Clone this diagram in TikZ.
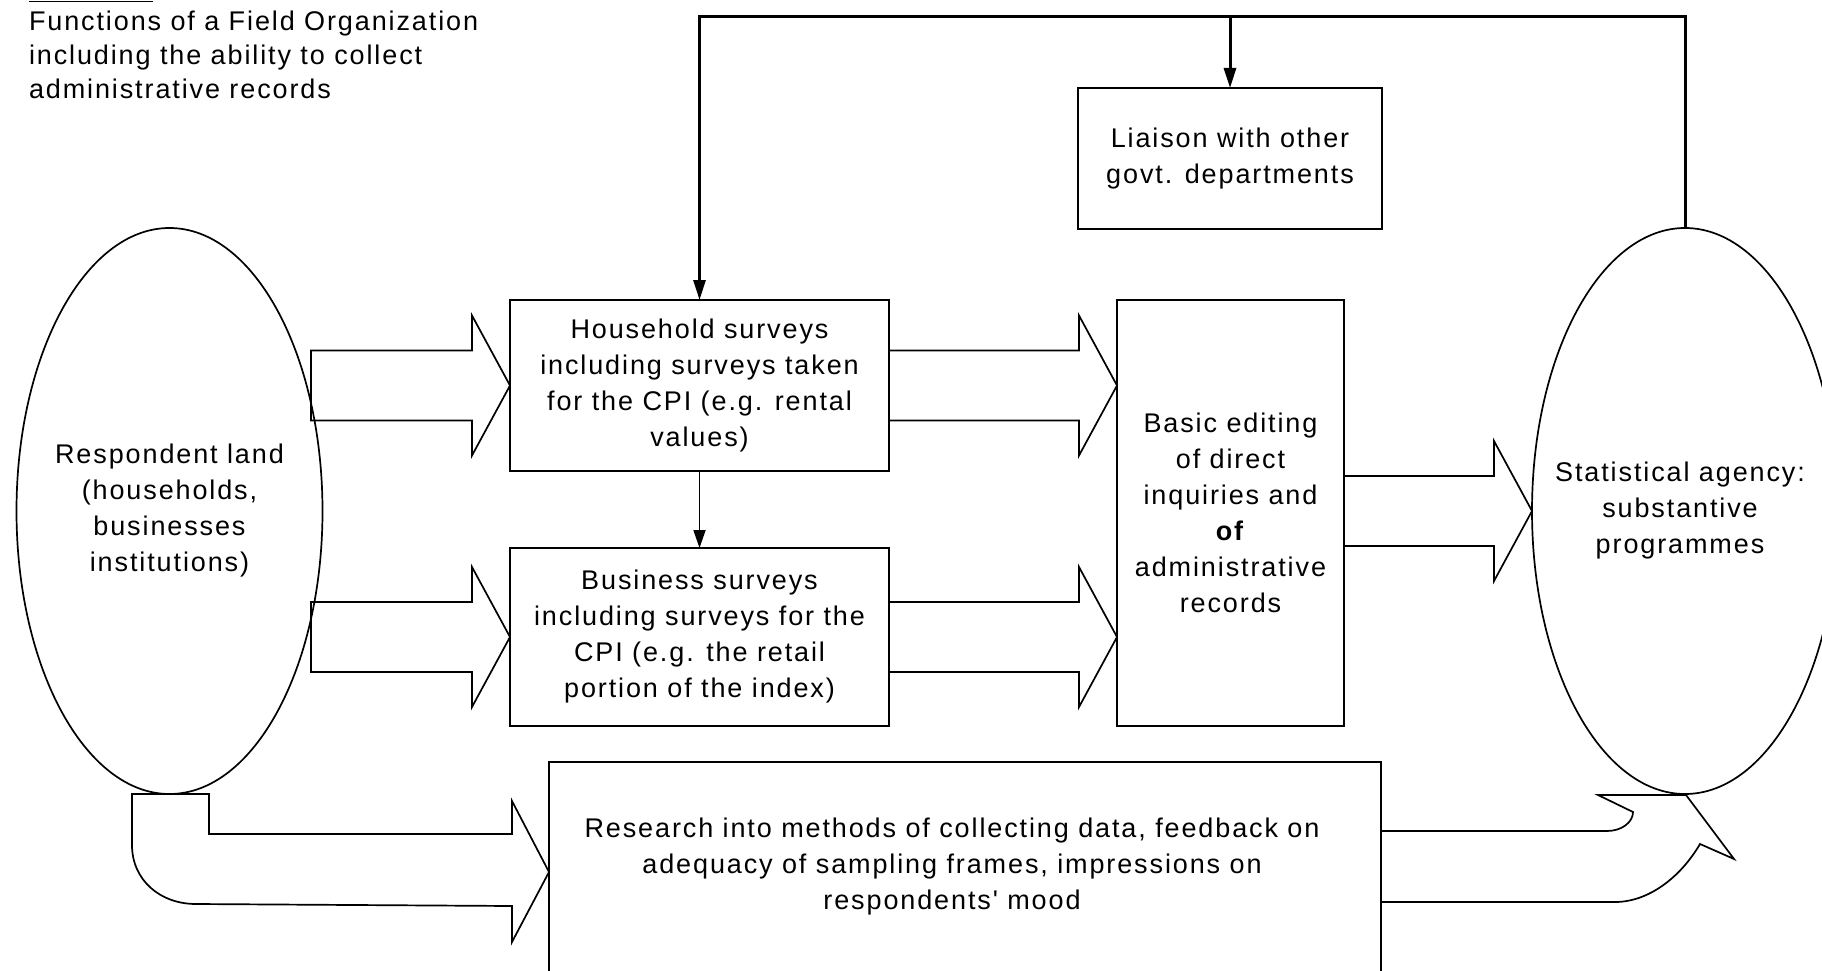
\documentclass[tikz,border=0pt]{standalone}
\usepackage{fontspec}
\setmainfont{Liberation Sans}[LetterSpace=7, Ligatures=TeXOff]
\usetikzlibrary{shapes.geometric,arrows.meta,calc}

% horizontal block arrow: from the x of #1 to the tip at #2
\newcommand\blkarrow[2]{%
  \draw[blk] let \p1=(#1), \p2=(#2) in
    (\x1,\y2+35) -- (\x2-38,\y2+35) -- (\x2-38,\y2+70) -- (\x2,\y2)
    -- (\x2-38,\y2-70) -- (\x2-38,\y2-35) -- (\x1,\y2-35) -- cycle;}

\begin{document}
\begin{tikzpicture}[x=1pt,y=-1pt,
  every node/.style={font=\fontsize{27}{36}\selectfont, inner sep=0pt, outer sep=0pt},
  boxnode/.style={draw, line width=2pt, align=center},
  oval/.style={draw, ellipse, line width=1.7pt, align=center, inner sep=-60pt},
  blk/.style={draw, line width=1.7pt, line join=miter},
  feed/.style={line width=3pt, -{Triangle[length=20pt,width=12pt]}},
  downarrow/.style={line width=1.8pt, -{Triangle[length=18pt,width=12pt]}}]
\path[use as bounding box, clip] (0,0) rectangle (1822,971);

% caption
\draw[line width=1.6pt] (29,1.5) -- (153,1.5);
\node[anchor=north west, align=left, font=\fontsize{27}{34}\selectfont] (caption) at (29,11)
  {Functions of a Field Organization\\including the ability to collect\\administrative records};

% ovals
\node[oval, minimum width=306, minimum height=566] (rl) at (169.5,511)
  {Respondent land\\(households,\\businesses\\institutions)};
\node[oval, minimum width=306, minimum height=566] (sa) at (1685,511)
  {\hspace*{-10pt}Statistical agency:\\\hspace*{-10pt}substantive\\\hspace*{-10pt}programmes};

% boxes
\node[boxnode, minimum width=304, minimum height=141] (li) at (1230,158.5)
  {Liaison with other\\govt. departments};
\node[boxnode, minimum width=379, minimum height=171] (hh) at (699.5,385.5)
  {Household surveys\\including surveys taken\\for the CPI (e.g. rental\\values)};
\node[boxnode, minimum width=379, minimum height=178] (bs) at (699.5,637)
  {Business surveys\\including surveys for the\\CPI (e.g. the retail\\portion of the index)};
\node[boxnode, minimum width=227, minimum height=426] (ed) at (1230.5,513)
  {Basic editing\\of direct\\inquiries and\\\textbf{of}\\administrative\\records};
\node[boxnode, minimum width=832, minimum height=210] (rs) at (965,867)
  {\hspace*{-26pt}Research into methods of collecting data, feedback on\\\hspace*{-26pt}adequacy of sampling frames, impressions on\\\hspace*{-26pt}respondents' mood};

% feedback lines from the statistical agency
\coordinate (top) at (0,17);
\draw[feed, line join=miter] (sa.north) -- (sa.north |- top) -| (hh.north);
\draw[feed] (li.north |- top) -- (li.north);
\draw[downarrow] (hh.south) -- (bs.north);

% block arrows
\coordinate (rlout) at (311,0);
\blkarrow{rlout}{hh.west}
\blkarrow{rlout}{bs.west}
\blkarrow{hh.east}{ed.west |- hh.east}
\blkarrow{bs.east}{ed.west |- bs.east}
\blkarrow{ed.east}{sa.west}

% bent arrow from respondent land to research
\draw[blk] (132,794) -- (209,794) -- (209,834) -- (512,834) -- (512,801)
  -- (549,872) -- (512,942) -- (512,906) -- (196,904)
  .. controls (160,904) and (132,880) .. (132,845) -- cycle;

% curved arrow from research to the statistical agency
\draw[blk] (rs.east |- 0,831) -- (1607,831) .. controls (1622,831) and (1633,822) .. (1633,812)
  -- (1598,795) -- (1686,795) -- (1734,859) -- (1700,844)
  .. controls (1680,878) and (1648,902) .. (1615,902) -- (rs.east |- 0,902);
\end{tikzpicture}
\end{document}
